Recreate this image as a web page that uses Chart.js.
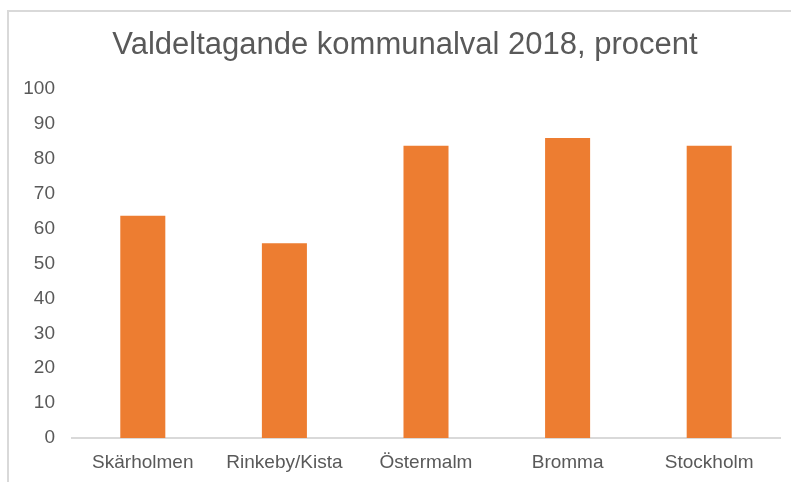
<!DOCTYPE html>
<html>
<head>
<meta charset="utf-8">
<script src="https://cdn.jsdelivr.net/npm/chart.js@4/dist/chart.umd.min.js"></script>
<style>
  html, body { margin: 0; padding: 0; background: #fff; }
  #wrap { position: relative; width: 791px; height: 482px; overflow: hidden; }
  #frame { position: absolute; left: 7px; top: 10px; width: 900px; height: 600px;
           border-left: 2px solid #d9d9d9; border-top: 2px solid #d9d9d9; box-sizing: border-box; }
  canvas { position: absolute; left: 0; top: 0; }
</style>
</head>
<body>
<div id="wrap">
  <div id="frame"></div>
  <canvas id="c" width="791" height="482"></canvas>
</div>
<script>
const titleText = "Valdeltagande kommunalval 2018, procent";
const categories = ["Skärholmen", "Rinkeby/Kista", "Östermalm", "Bromma", "Stockholm"];
const turnout = [63.7, 55.8, 83.8, 86.0, 83.8];
const yMin = 0, yMax = 100, yStep = 10;

const font = "'Liberation Sans', Arial, sans-serif";
const widenYAxis = {
  id: 'widenYAxis',
  afterLayout(chart) {
    const y = chart.scales.y;
    y.left = 15;
    y.width = y.right - y.left;
  }
};
new Chart(document.getElementById('c'), {
  type: 'bar',
  data: {
    labels: categories,
    datasets: [{
      data: turnout,
      backgroundColor: '#ED7D31',
      borderWidth: 0,
      categoryPercentage: 1.0,
      barPercentage: 0.318
    }]
  },
  plugins: [widenYAxis],
  options: {
    responsive: false,
    animation: false,
    devicePixelRatio: 1,
    layout: { padding: { left: 30, right: 11, top: 0, bottom: 0 } },
    plugins: {
      legend: { display: false },
      tooltip: { enabled: false },
      title: {
        display: true,
        text: titleText,
        color: '#595959',
        font: { family: font, size: 31, weight: 'normal' },
        padding: { top: 27, bottom: 25 }
      }
    },
    scales: {
      x: {
        afterFit(s) { s.height = 44; },
        grid: { display: false, drawTicks: false, tickLength: 0 },
        border: { display: true, color: '#d9d9d9', width: 2 },
        ticks: { color: '#595959', font: { family: font, size: 19 }, padding: 13, maxRotation: 0 }
      },
      y: {
        min: yMin, max: yMax,
        afterFit(s) { s.width = 42; },
        grid: { display: false, drawTicks: false, tickLength: 0 },
        border: { display: false },
        ticks: { stepSize: yStep, color: '#595959', font: { family: font, size: 19 }, padding: 17 }
      }
    }
  }
});
</script>
</body>
</html>
